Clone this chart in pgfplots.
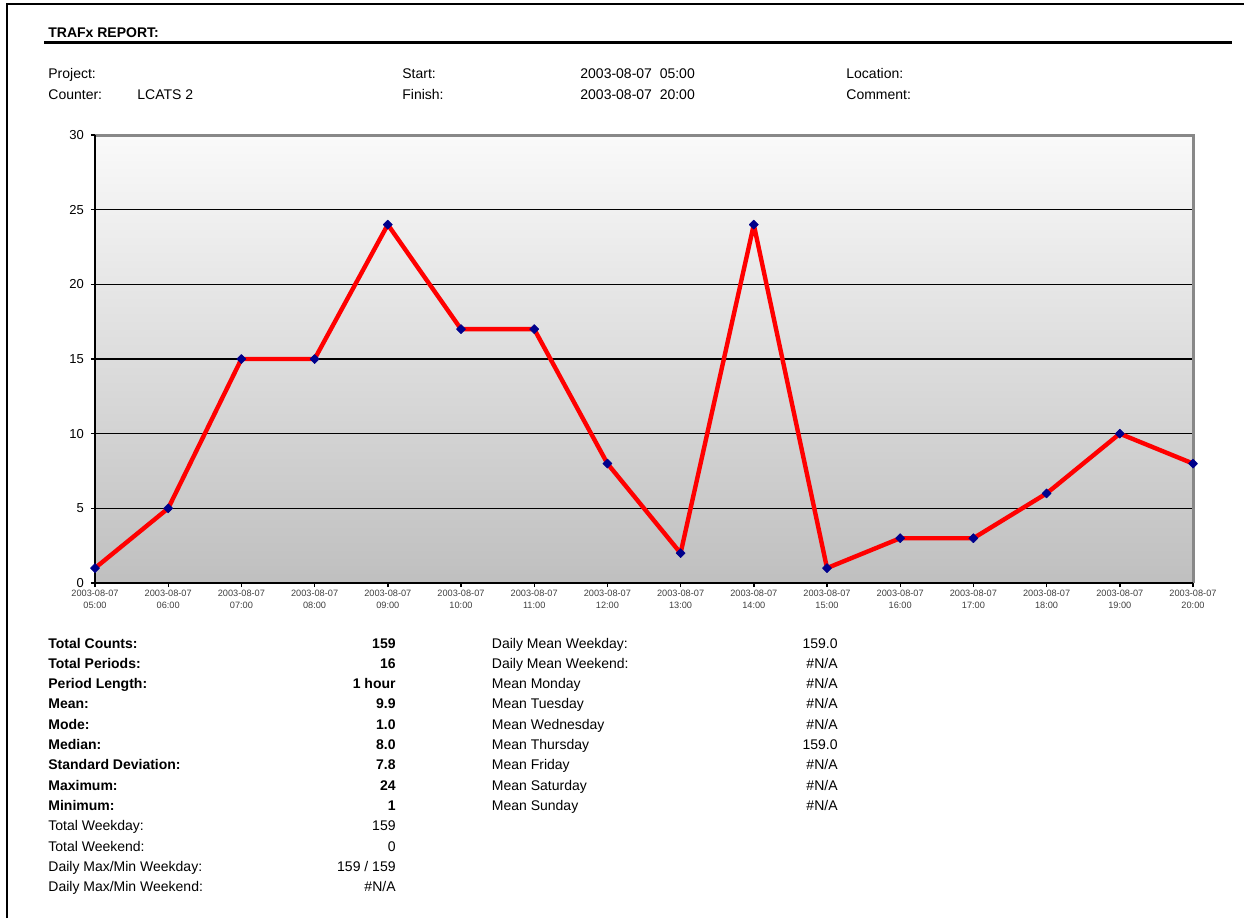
\documentclass[border=0pt]{standalone}
\usepackage{pgfplots}
\pgfplotsset{compat=1.18}
\usepackage{fontspec}
\setmainfont{Liberation Sans}
\definecolor{navy}{RGB}{0,0,140}
\definecolor{framegray}{RGB}{136,136,136}
\newcommand{\fs}{\fontsize{7}{8}\selectfont}
\newcommand{\lrowb}[3]{\node[anchor=base west, font=\fs\bfseries] at (48,{648+20.3*#1}) {#2};
  \node[anchor=base east, font=\fs\bfseries] at (396,{648+20.3*#1}) {#3};}
\newcommand{\lrow}[3]{\node[anchor=base west] at (48,{648+20.3*#1}) {#2};
  \node[anchor=base east] at (396,{648+20.3*#1}) {#3};}
\newcommand{\mrow}[3]{\node[anchor=base west] at (491.5,{648+20.3*#1}) {#2};
  \node[anchor=base east] at (838,{648+20.3*#1}) {#3};}
\begin{document}
\begin{tikzpicture}
\begin{scope}[x=0.5pt,y=-0.5pt]
\path[use as bounding box] (0,0) rectangle (1244,918);
% page frame
\draw[line width=1pt] (7,918) -- (7,4) -- (1244,4);
% header
\node[anchor=base west, inner sep=0pt, font=\fs\bfseries] at (48,37.5) {TRAFx REPORT:};
\draw[line width=1.5pt] (44,42.5) -- (1232,42.5);
\begin{scope}[every node/.style={anchor=base west, inner sep=0pt, font=\fs}]
\node at (48,78) {Project:};
\node at (48,99) {Counter:};
\node at (137,99) {LCATS 2};
\node at (402,78) {Start:};
\node at (402,99) {Finish:};
\node at (580,78) {2003-08-07\ \ 05:00};
\node at (580,99) {2003-08-07\ \ 20:00};
\node at (846,78) {Location:};
\node at (846,99) {Comment:};
\end{scope}
\begin{scope}[every node/.style={inner sep=0pt, font=\fs}]
\lrowb{0}{Total Counts:}{159}
\lrowb{1}{Total Periods:}{16}
\lrowb{2}{Period Length:}{1 hour}
\lrowb{3}{Mean:}{9.9}
\lrowb{4}{Mode:}{1.0}
\lrowb{5}{Median:}{8.0}
\lrowb{6}{Standard Deviation:}{7.8}
\lrowb{7}{Maximum:}{24}
\lrowb{8}{Minimum:}{1}
\lrow{9}{Total Weekday:}{159}
\lrow{10}{Total Weekend:}{0}
\lrow{11}{Daily Max/Min Weekday:}{159 / 159}
\lrow{12}{Daily Max/Min Weekend:}{\#N/A}
\mrow{0}{Daily Mean Weekday:}{159.0}
\mrow{1}{Daily Mean Weekend:}{\#N/A}
\mrow{2}{Mean Monday}{\#N/A}
\mrow{3}{Mean Tuesday}{\#N/A}
\mrow{4}{Mean Wednesday}{\#N/A}
\mrow{5}{Mean Thursday}{159.0}
\mrow{6}{Mean Friday}{\#N/A}
\mrow{7}{Mean Saturday}{\#N/A}
\mrow{8}{Mean Sunday}{\#N/A}
\end{scope}
\end{scope}
\begin{axis}[
  at={(47.5pt,-291.5pt)}, anchor=south west, scale only axis,
  width=549pt, height=224pt,
  xmin=0, xmax=15, ymin=0, ymax=30,
  clip=false,
  axis line style={draw=none},
  axis background/.style={top color=white!98!black, bottom color=white!75!black},
  xtick={0,...,15},
  xticklabels={{2003-08-07\\05:00},{2003-08-07\\06:00},{2003-08-07\\07:00},{2003-08-07\\08:00},{2003-08-07\\09:00},{2003-08-07\\10:00},{2003-08-07\\11:00},{2003-08-07\\12:00},{2003-08-07\\13:00},{2003-08-07\\14:00},{2003-08-07\\15:00},{2003-08-07\\16:00},{2003-08-07\\17:00},{2003-08-07\\18:00},{2003-08-07\\19:00},{2003-08-07\\20:00}},
  ytick={0,5,...,30},
  xtick pos=left, ytick pos=left,
  tick align=outside,
  major tick length=2pt,
  tick style={black, line width=0.7pt},
  ymajorgrids,
  grid style={black, line width=0.55pt},
  x tick label style={align=center, font=\fontsize{4.6}{5.6}\selectfont, text=black!75, inner sep=1.5pt},
  y tick label style={font=\fontsize{6.5}{7.5}\selectfont},
  /pgf/number format/assume math mode=true,
]
\draw[framegray, line width=1.5pt] (rel axis cs:0,1) -- (rel axis cs:1,1) -- (rel axis cs:1,0);
\draw[black, line width=1pt] (rel axis cs:0,1) -- (rel axis cs:0,0) -- (rel axis cs:1,0);
\addplot[red, line width=2.2pt, line join=round, mark=square*, mark size=1.6pt, mark options={draw=navy, fill=navy, line width=0.3pt, rotate=45}]
coordinates {(0,1) (1,5) (2,15) (3,15) (4,24) (5,17) (6,17) (7,8) (8,2) (9,24) (10,1) (11,3) (12,3) (13,6) (14,10) (15,8)};
\end{axis}
\end{tikzpicture}
\end{document}
